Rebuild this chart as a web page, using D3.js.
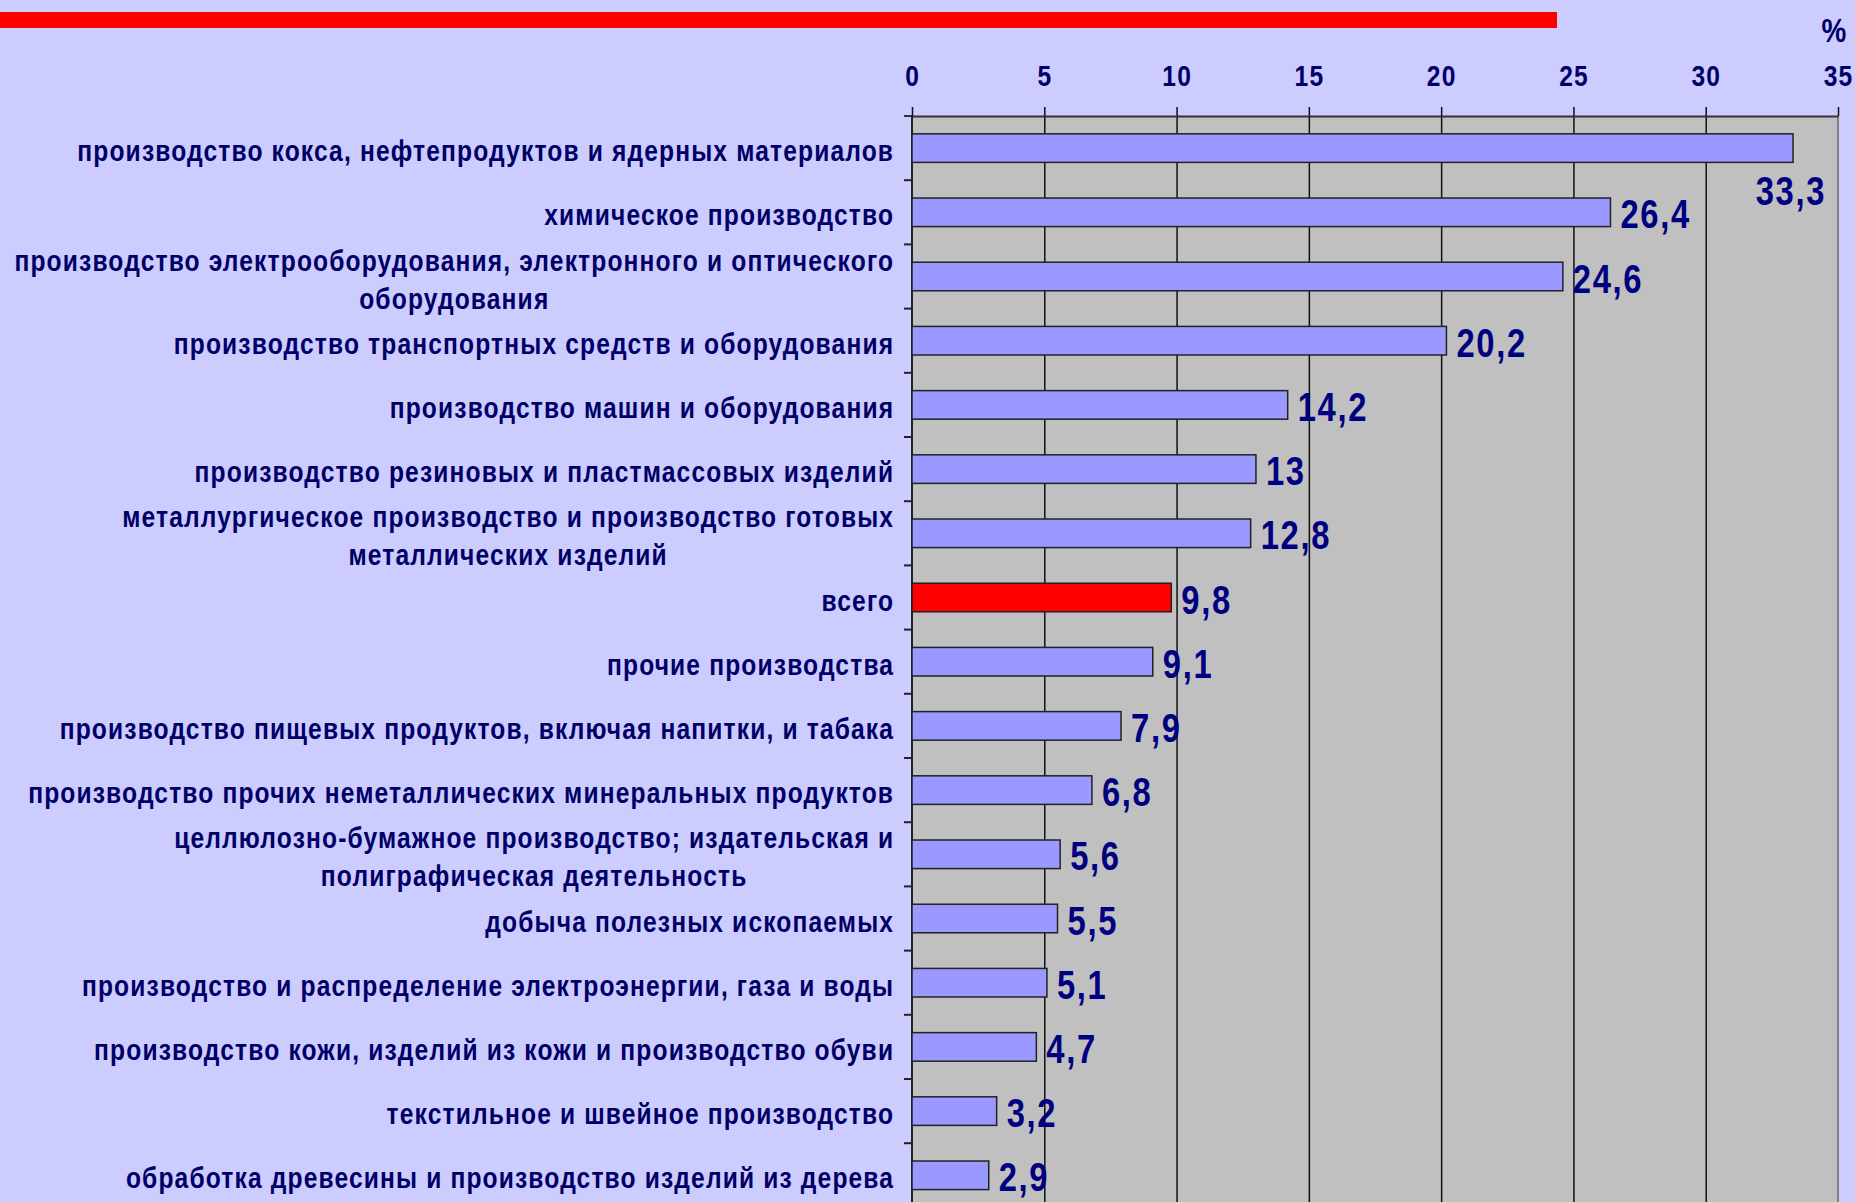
<!DOCTYPE html>
<html>
<head>
<meta charset="utf-8">
<script src="https://cdn.jsdelivr.net/npm/d3@7"></script>
<style>
  body { margin: 0; background: #ccccff; }
  svg { display: block; }
</style>
</head>
<body>
<svg id="chart" width="1855" height="1202"></svg>
<script>
const categories = [
  "производство кокса, нефтепродуктов и ядерных материалов",
  "химическое производство",
  "производство электрооборудования, электронного и оптического\nоборудования",
  "производство транспортных средств и оборудования",
  "производство машин и оборудования",
  "производство резиновых и пластмассовых изделий",
  "металлургическое производство и производство готовых\nметаллических изделий",
  "всего",
  "прочие производства",
  "производство пищевых продуктов, включая напитки, и табака",
  "производство прочих неметаллических минеральных продуктов",
  "целлюлозно-бумажное производство; издательская и\nполиграфическая деятельность",
  "добыча полезных ископаемых",
  "производство и распределение электроэнергии, газа и воды",
  "производство кожи, изделий из кожи и производство обуви",
  "текстильное и швейное производство",
  "обработка древесины и производство изделий из дерева"
];
const values = [33.3, 26.4, 24.6, 20.2, 14.2, 13, 12.8, 9.8, 9.1, 7.9, 6.8, 5.6, 5.5, 5.1, 4.7, 3.2, 2.9];
const highlighted = "всего";
const xTicks = [0, 5, 10, 15, 20, 25, 30, 35];
const unitLabel = "%";

// ---------- font: narrow bold, or squeezed regular if no narrow face ----------
const ctx = document.createElement("canvas").getContext("2d");
ctx.font = "bold 30px 'Liberation Sans Narrow', monospace";
const wNarrow = ctx.measureText("производство").width;
ctx.font = "bold 30px monospace";
const wMono = ctx.measureText("производство").width;
const hasNarrow = Math.abs(wNarrow - wMono) > 0.5;
const FONT = hasNarrow ? "'Liberation Sans Narrow', 'Arial Narrow', sans-serif" : "'Liberation Sans', Arial, sans-serif";
const squeeze = hasNarrow ? 1 : 0.82;

function addText(g, x, y, str, size, anchor, fill, spacing) {
  const ls = spacing || 0;
  // trailing letter-spacing shifts end/middle anchored text, so compensate
  const dx = anchor === "end" ? ls : anchor === "middle" ? ls / 2 : 0;
  return g.append("text")
    .attr("transform", `translate(${x + dx * squeeze},${y}) scale(${squeeze},1)`)
    .attr("font-family", FONT).attr("font-weight", "bold")
    .attr("font-size", size).attr("text-anchor", anchor)
    .attr("letter-spacing", ls)
    .attr("fill", fill).text(str);
}

const svg = d3.select("#chart");
const W = 1855, H = 1202;
svg.append("rect").attr("width", W).attr("height", H).attr("fill", "#ccccff");

// red stripe at the top
svg.append("rect").attr("x", 0).attr("y", 12).attr("width", 1557).attr("height", 16).attr("fill", "#ff0000");

const plotTop = 116, plotLeft = 912, plotRight = 1838;
const step = 64.2;

const x = d3.scaleLinear().domain([0, 35]).range([plotLeft, plotRight]);
const y = d3.scaleBand().domain(categories)
  .range([plotTop, plotTop + step * categories.length])
  .paddingInner(0.555).paddingOuter(0.2775);

// plot area
svg.append("rect").attr("x", x(0)).attr("y", plotTop)
  .attr("width", x(35) - x(0)).attr("height", H - plotTop + 10)
  .attr("fill", "#c0c0c0");
svg.append("line").attr("x1", x(35)).attr("x2", x(35)).attr("y1", plotTop).attr("y2", H)
  .attr("stroke", "#808080").attr("stroke-width", 2);

// gridlines
const grid = svg.append("g").attr("transform", `translate(0,${plotTop})`)
  .call(d3.axisTop(x).tickValues(xTicks.filter(t => t > 0 && t < 35)).tickSize(-(H - plotTop)).tickFormat(""));
grid.select(".domain").remove();
grid.selectAll(".tick line").attr("stroke", "#111").attr("stroke-width", 1.5);

// top axis with ticks above
const axTop = svg.append("g").attr("transform", `translate(0,${plotTop})`)
  .call(d3.axisTop(x).tickValues(xTicks).tickSize(9).tickSizeOuter(0).tickFormat(""));
axTop.select(".domain").attr("stroke", "#333").attr("stroke-width", 2);
axTop.selectAll(".tick line").attr("stroke", "#111").attr("stroke-width", 1.5);
svg.append("line").attr("x1", plotLeft - 8).attr("x2", plotLeft).attr("y1", plotTop).attr("y2", plotTop)
  .attr("stroke", "#333").attr("stroke-width", 2);

xTicks.forEach(t => addText(svg, x(t), 86, String(t), 30, "middle", "#000066", 1.5));
addText(svg, x(35) - 4, 42, unitLabel, 34, "middle", "#000066");

// left axis line and ticks at band boundaries
svg.append("line").attr("x1", x(0)).attr("x2", x(0)).attr("y1", plotTop).attr("y2", H)
  .attr("stroke", "#222").attr("stroke-width", 2);
categories.forEach(c => {
  const b = y(c) - y.step() * y.paddingInner() / 2 + y.step();
  svg.append("line").attr("x1", x(0) - 8).attr("x2", x(0)).attr("y1", b).attr("y2", b)
    .attr("stroke", "#222").attr("stroke-width", 2);
});

// bars
const data = categories.map((c, i) => ({ cat: c, value: values[i] }));
svg.selectAll(".bar").data(data).enter().append("rect")
  .attr("class", "bar")
  .attr("x", x(0))
  .attr("y", d => y(d.cat))
  .attr("width", d => x(d.value) - x(0))
  .attr("height", y.bandwidth())
  .attr("fill", d => d.cat === highlighted ? "#ff0000" : "#9999ff")
  .attr("stroke", "#222").attr("stroke-width", 1.5);

// category labels
const labelRight = 893, labelSize = 30, labelLs = 1.4;
data.forEach(d => {
  const lines = d.cat.split("\n");
  const cy = y(d.cat) + y.bandwidth() / 2;
  if (lines.length === 1) {
    addText(svg, labelRight, cy + 13, lines[0], labelSize, "end", "#000066", labelLs);
  } else {
    // multi-line labels are centred as a block that ends at the right edge
    const g = svg.append("g");
    const t0 = addText(g, labelRight, cy - 19 + 13, lines[0], labelSize, "end", "#000066", labelLs);
    const w0 = (t0.node().getBBox().width - labelLs) * squeeze;
    addText(g, labelRight - w0 / 2, cy + 19 + 13, lines[1], labelSize, "middle", "#000066", labelLs);
  }
});

// value labels
data.forEach(d => {
  const str = String(d.value).replace(".", ",");
  const cy = y(d.cat) + y.bandwidth() / 2;
  const xe = x(d.value);
  if (xe + 95 > plotRight) {
    addText(svg, xe - 3, cy + 57, str, 40, "middle", "#000080", 2);
  } else {
    addText(svg, xe + 10, cy + 16, str, 40, "start", "#000080", 2);
  }
});
</script>
</body>
</html>
